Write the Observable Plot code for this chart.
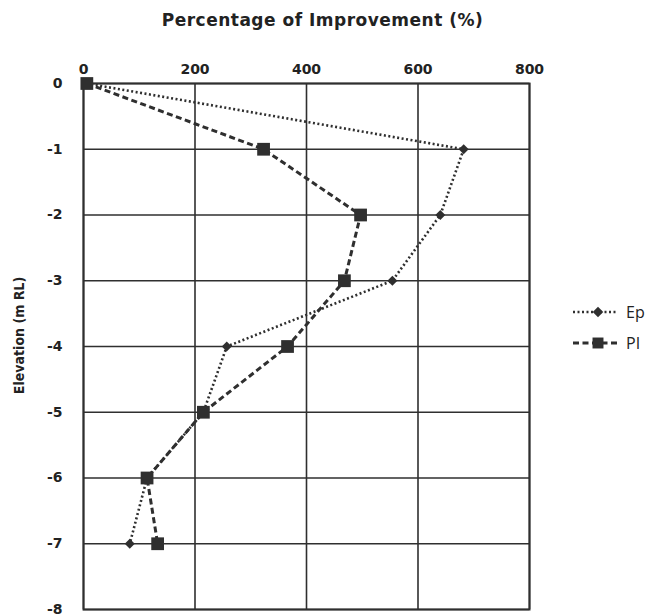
<!DOCTYPE html>
<html>
<head>
<meta charset="utf-8">
<script src="https://cdn.jsdelivr.net/npm/d3@7"></script>
<script src="https://cdn.jsdelivr.net/npm/@observablehq/plot@0.6"></script>
<style>
  html, body { margin: 0; padding: 0; background: #fff; }
  #wrap { position: relative; width: 649px; height: 616px; }
  #chart svg { font-family: "DejaVu Sans", sans-serif; }
  g[aria-label="x-axis tick label"] text, g[aria-label="y-axis tick label"] text { font-weight: bold; font-size: 14px; fill: #222; }
  .xtitle text { font-family: "DejaVu Sans", sans-serif; font-weight: bold; font-size: 17px; letter-spacing: 0.5px; fill: #222; }
  .ytitle text { font-family: "Liberation Sans Narrow", "DejaVu Sans Condensed", sans-serif; font-weight: bold; font-size: 14px; fill: #222; }
  #legend { position: absolute; left: 570px; top: 298px; }
  #legend text { font-family: "Open Sans", sans-serif; font-size: 16px; fill: #222; }
</style>
</head>
<body>
<div id="wrap">
  <div id="chart"></div>
  <svg id="legend" width="79" height="60"></svg>
</div>
<script>
const elevation = [0, -1, -2, -3, -4, -5, -6, -7];
const epValues = [6, 682, 640, 554, 257, 215, 114, 83];
const piValues = [6, 323, 497, 468, 366, 215, 114, 133];
const xTicks = [0, 200, 400, 600, 800];
const yTicks = [0, -1, -2, -3, -4, -5, -6, -7, -8];
const seriesNames = ["Ep", "PI"];
const xTitle = "Percentage of Improvement (%)";
const yTitle = "Elevation (m RL)";

const ep = elevation.map((e, i) => ({elev: e, value: epValues[i]}));
const pi = elevation.map((e, i) => ({elev: e, value: piValues[i]}));
const ink = "#2f2f2f";

const chart = Plot.plot({
  width: 649,
  height: 616,
  marginTop: 83,
  marginLeft: 83,
  marginRight: 120,
  marginBottom: 7,
  x: {domain: [0, 800]},
  y: {domain: [-8, 0]},
  marks: [
    Plot.gridX(xTicks, {stroke: ink, strokeOpacity: 1, strokeWidth: 1.6}),
    Plot.gridY(yTicks, {stroke: ink, strokeOpacity: 1, strokeWidth: 1.6}),
    Plot.frame({stroke: ink, strokeWidth: 2}),
    Plot.axisX({anchor: "top", ticks: xTicks, tickSize: 0, tickPadding: 10, tickFormat: d => String(d), label: null}),
    Plot.axisY({anchor: "left", ticks: yTicks, tickSize: 0, tickPadding: 21, tickFormat: d => String(d), label: null}),
    Plot.text([xTitle], {frameAnchor: "top", text: d => d, dx: 16, dy: -70, className: "xtitle"}),
    Plot.text([yTitle], {frameAnchor: "left", text: d => d, rotate: -90, textAnchor: "middle", dx: -64, dy: -11, className: "ytitle"}),
    Plot.line(ep, {x: "value", y: "elev", stroke: ink, strokeWidth: 2.6, strokeDasharray: "2,2.5", strokeLinecap: "butt"}),
    Plot.dot(ep, {x: "value", y: "elev", symbol: "diamond2", r: 4.5, fill: ink, stroke: "none"}),
    Plot.line(pi, {x: "value", y: "elev", stroke: ink, strokeWidth: 3, strokeDasharray: "6,3.5", strokeLinecap: "butt"}),
    Plot.dot(pi, {x: "value", y: "elev", symbol: "square", r: 7.2, fill: ink, stroke: "none"})
  ]
});
document.getElementById("chart").appendChild(chart);

// legend
const lg = d3.select("#legend");
const rows = [
  {name: seriesNames[0], dash: "2,2.5", sw: 2.6, sym: d3.symbolDiamond2, size: 70},
  {name: seriesNames[1], dash: "6,3.5", sw: 3, sym: d3.symbolSquare, size: 120}
];
rows.forEach((r, i) => {
  const y = 14 + i * 31;
  lg.append("line").attr("x1", 3).attr("x2", 47).attr("y1", y).attr("y2", y)
    .attr("stroke", ink).attr("stroke-width", r.sw).attr("stroke-dasharray", r.dash);
  lg.append("path").attr("d", d3.symbol(r.sym, r.size)()).attr("transform", `translate(28,${y})`).attr("fill", ink);
  lg.append("text").attr("x", 56).attr("y", y).attr("dy", "0.35em").text(r.name);
});
</script>
</body>
</html>
